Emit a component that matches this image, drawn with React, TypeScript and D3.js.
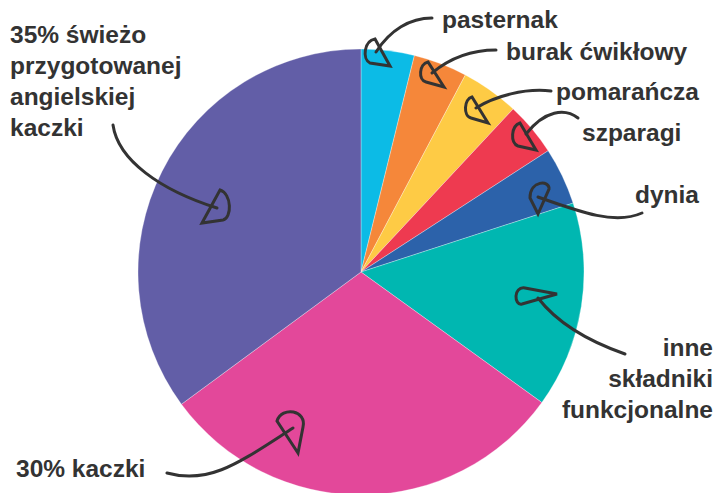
import React from "react";
import * as d3 from "d3";

const categories = [
  "pasternak",
  "burak ćwikłowy",
  "pomarańcza",
  "szparagi",
  "dynia",
  "inne składniki funkcjonalne",
  "30% kaczki",
  "35% świeżo przygotowanej angielskiej kaczki",
];
const values = [3.85, 3.9, 4.2, 3.9, 4.15, 14.95, 29.95, 35.1];
const colors = ["#0cbbe6", "#f5873a", "#fecb45", "#ee3a50", "#2c62aa", "#00b7b1", "#e3489a", "#625ea7"];

type Label = { lines: string[]; x: number; y: number; anchor: "start" | "end" };
const labels: Label[] = [
  { lines: ["pasternak"], x: 442, y: 28, anchor: "start" },
  { lines: ["burak ćwikłowy"], x: 506, y: 60, anchor: "start" },
  { lines: ["pomarańcza"], x: 556, y: 100, anchor: "start" },
  { lines: ["szparagi"], x: 582, y: 141, anchor: "start" },
  { lines: ["dynia"], x: 635, y: 203, anchor: "start" },
  { lines: ["inne", "składniki", "funkcjonalne"], x: 713, y: 356, anchor: "end" },
  { lines: ["30% kaczki"], x: 16, y: 477, anchor: "start" },
  { lines: ["35% świeżo", "przygotowanej", "angielskiej", "kaczki"], x: 10, y: 43, anchor: "start" },
];

type P = [number, number];
type Arrow = { line: P[]; T: P; A: P; B: P; c1: P; c2: P };
// line: start, ctrl1, ctrl2, end ; head: tip T, corners A,B with bulge controls c1,c2
const arrows: Arrow[] = [
  { line: [[432, 18], [410, 18], [390, 30], [376, 52]], T: [390, 66], A: [375, 39], B: [370, 63], c1: [364, 41], c2: [362, 59] },
  { line: [[496, 50], [470, 50], [450, 58], [432, 73]], T: [444, 87], A: [428, 62], B: [426, 82], c1: [419, 64], c2: [418, 80] },
  { line: [[551, 91], [525, 88], [495, 96], [476, 108]], T: [488, 123], A: [472, 97], B: [471, 118], c1: [464, 99], c2: [463, 116] },
  { line: [[578, 118], [565, 108], [545, 110], [526, 134]], T: [536, 150], A: [520, 123], B: [518, 146], c1: [511, 126], c2: [510, 143] },
  { line: [[642, 213], [615, 225], [580, 212], [538, 197]], T: [538, 214], A: [549, 189], B: [530, 198], c1: [550, 180], c2: [530, 180] },
  { line: [[625, 354], [585, 340], [555, 320], [538, 298]], T: [557, 294], A: [525, 288], B: [522, 304], c1: [513, 286], c2: [514, 306] },
  { line: [[113, 125], [118, 160], [160, 190], [217, 208]], T: [202, 223], A: [220, 190], B: [223, 220], c1: [232, 194], c2: [232, 218] },
  { line: [[167, 473], [210, 485], [240, 462], [293, 428]], T: [298, 453], A: [277, 421], B: [303, 427], c1: [282, 406], c2: [307, 410] },
];

const W = 719;
const H = 493;
const cx = 361;
const cy = 272;
const R = 223;

export default function App() {
  const pie = d3.pie<number>().sort(null).value((d) => d)(values);
  const arc = d3.arc<d3.PieArcDatum<number>>().innerRadius(0).outerRadius(R);
  const font = "'Liberation Sans', Arial, Helvetica, sans-serif";
  const ink = "#333333";
  return (
    <svg width={W} height={H} style={{ position: "absolute", left: 0, top: 0, display: "block" }}>
      <rect width={W} height={H} fill="#ffffff" />
      <g transform={`translate(${cx},${cy})`}>
        {pie.map((d, i) => (
          <path key={categories[i]} d={arc(d) || ""} fill={colors[i]} stroke="#ffffff" strokeWidth={0.5} strokeOpacity={0.6} />
        ))}
      </g>
      {arrows.map((a, i) => {
        const p = d3.path();
        p.moveTo(a.line[0][0], a.line[0][1]);
        p.bezierCurveTo(a.line[1][0], a.line[1][1], a.line[2][0], a.line[2][1], a.line[3][0], a.line[3][1]);
        const h = d3.path();
        h.moveTo(a.T[0], a.T[1]);
        h.lineTo(a.A[0], a.A[1]);
        h.bezierCurveTo(a.c1[0], a.c1[1], a.c2[0], a.c2[1], a.B[0], a.B[1]);
        h.closePath();
        return (
          <g key={i} fill="none" stroke={ink} strokeWidth={3} strokeLinecap="round" strokeLinejoin="round">
            <path d={p.toString()} />
            <path d={h.toString()} strokeLinejoin="miter" />
          </g>
        );
      })}
      {labels.map((l, i) => (
        <text key={i} x={l.x} y={l.y} textAnchor={l.anchor} fontFamily={font} fontWeight="bold" fontSize={24.5} fill={ink}>
          {l.lines.map((s, j) => (
            <tspan key={j} x={l.x} y={l.y + j * 31}>
              {s}
            </tspan>
          ))}
        </text>
      ))}
    </svg>
  );
}
